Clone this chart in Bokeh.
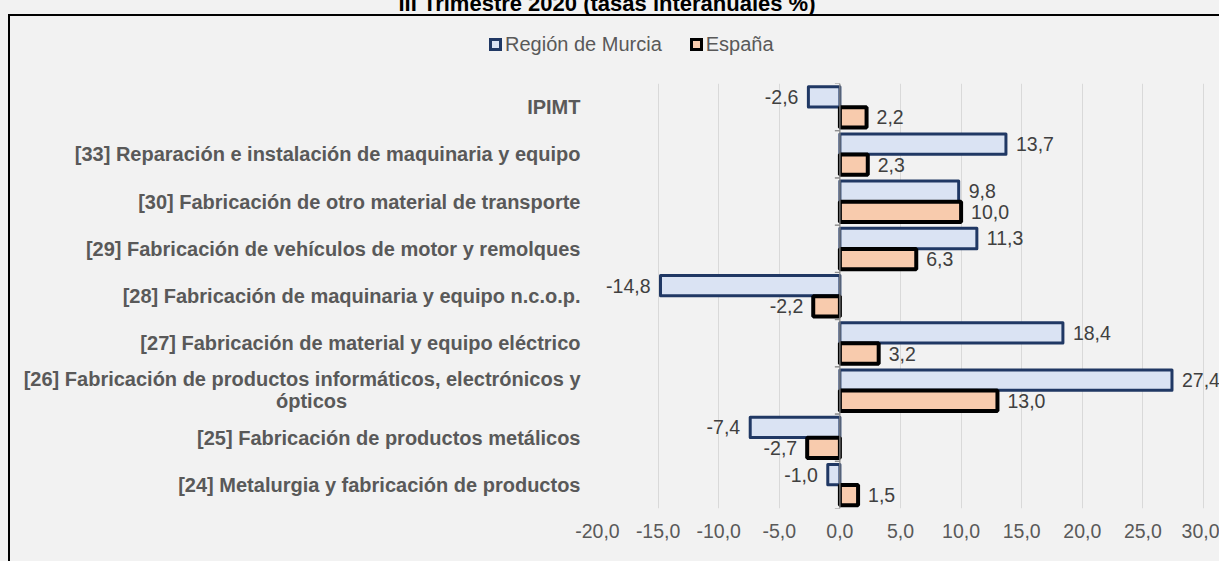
import math
from bokeh.plotting import figure
from bokeh.layouts import column
from bokeh.models import (ColumnDataSource, FactorRange, Range1d, FixedTicker, Span, Div)
from bokeh.transform import dodge
from bokeh.core.properties import value
from bokeh.embed import file_html
from bokeh.resources import INLINE

TITLE = "III Trimestre 2020 (tasas interanuales %)"
categories = [
    "IPIMT",
    "[33] Reparación e instalación de maquinaria y equipo",
    "[30] Fabricación de otro material de transporte",
    "[29] Fabricación de vehículos de motor y remolques",
    "[28] Fabricación de maquinaria y equipo n.c.o.p.",
    "[27] Fabricación de material y equipo eléctrico",
    "[26] Fabricación de productos informáticos, electrónicos y\nópticos",
    "[25] Fabricación de productos metálicos",
    "[24] Metalurgia y fabricación de productos",
]
murcia = [-2.6, 13.7, 9.8, 11.3, -14.8, 18.4, 27.4, -7.4, -1.0]
espana = [2.2, 2.3, 10.0, 6.3, -2.2, 3.2, 13.0, -2.7, 1.5]
series_names = ["Región de Murcia", "España"]
x_ticks = [-20, -15, -10, -5, 0, 5, 10, 15, 20, 25, 30]
x_tick_labels = ["-20,0", "-15,0", "-10,0", "-5,0", "0,0", "5,0", "10,0",
                 "15,0", "20,0", "25,0", "30,0"]

FONT = "Liberation Sans"
GRAY_TXT = "#595959"
M_FILL, M_LINE = "#dae3f3", "#203864"
E_FILL, E_LINE = "#f8cbad", "#000000"

W, H_PAGE = 1219, 561
HEADER_H = 83                      # title + legend strip
FRAME_L, FRAME_R_AXIS = 597, 1203  # pixel positions of -20 and 30
FRAME_B = 508 - HEADER_H           # bottom of plotting area inside the main figure
px_per_unit = (FRAME_R_AXIS - FRAME_L) / (x_ticks[-1] - x_ticks[0])
x_end = x_ticks[-1] + (W - FRAME_R_AXIS) / px_per_unit


def fmt(v):
    return f"{v:.1f}".replace(".", ",")


def axis_name(c):
    # axis labels are right-aligned; pad the second line of a wrapped label so it sits
    # centred under the first line (no-break spaces closed by a zero-width space)
    if "\n" not in c:
        return c
    first, second = c.split("\n")
    return first + "\n" + second + "\u00a0" * 42 + "\u200b"


factors = [axis_name(c) for c in categories]

src = ColumnDataSource(dict(
    cat=factors,
    murcia=murcia,
    espana=espana,
    m_lbl=[fmt(v) for v in murcia],
    e_lbl=[fmt(v) for v in espana],
    m_align=["left" if v >= 0 else "right" for v in murcia],
    e_align=["left" if v >= 0 else "right" for v in espana],
    m_off=[10 if v >= 0 else -10 for v in murcia],
    e_off=[10 if v >= 0 else -10 for v in espana],
))

# ---------------- header: title + legend ----------------
def swatch(fill, line, lw):
    return (f'<span style="display:inline-block;box-sizing:border-box;width:13px;height:13px;'
            f'background:{fill};border:{lw}px solid {line};margin-right:3px;"></span>')

header_html = (
    f'<div style="position:relative;width:{W}px;height:{HEADER_H}px;overflow:visible;">'
    f'<div style="position:absolute;left:0;top:-7px;width:1214px;text-align:center;'
    f'white-space:nowrap;font-family:\'{FONT}\';font-weight:bold;font-size:22px;'
    f'line-height:22px;color:#000;">{TITLE}</div>'
    f'<div style="position:absolute;left:489px;top:32px;height:24px;display:flex;'
    f'align-items:center;white-space:nowrap;font-family:\'{FONT}\';font-size:20px;'
    f'color:{GRAY_TXT};">'
    f'{swatch(M_FILL, M_LINE, 3)}<span style="margin-right:28px;">{series_names[0]}</span>'
    f'{swatch(E_FILL, E_LINE, 3)}<span>{series_names[1]}</span>'
    f'</div></div>'
)
hdr = Div(text=header_html, width=W, height=HEADER_H, styles={"margin": "0", "padding": "0"})

# ---------------- main chart ----------------
p = figure(width=W, height=H_PAGE - HEADER_H,
           x_range=Range1d(x_ticks[0], x_end),
           y_range=FactorRange(*reversed(factors)),
           output_backend="svg", toolbar_location=None,
           min_border_left=FRAME_L, min_border_right=0,
           min_border_top=0, min_border_bottom=H_PAGE - HEADER_H - FRAME_B,
           background_fill_color=None, border_fill_color=None,
           outline_line_color=None)

OFF = 0.218
H = 0.43

r_m = p.hbar(y=dodge("cat", OFF, range=p.y_range), left=0, right="murcia", height=H,
             fill_color=M_FILL, line_color=M_LINE, line_width=3,
             line_join="round", source=src)
r_e = p.hbar(y=dodge("cat", -OFF, range=p.y_range), left=0, right="espana", height=H,
             fill_color=E_FILL, line_color=E_LINE, line_width=4, source=src)

# category-axis tick marks on the zero line
for d in (-0.5, 0.5):
    p.ray(x=0, y=dodge("cat", d, range=p.y_range), length=5, length_units="screen",
          angle=math.pi, line_color="#8c8c8c", line_width=1, source=src)

p.add_layout(Span(location=0, dimension="height", line_color="#8c8c8c", line_width=1.2))

common = dict(text_baseline="middle", text_font=value(FONT), text_font_size="19.5px",
              text_color="#404040", source=src)
p.text(x="murcia", y=dodge("cat", OFF, range=p.y_range), text="m_lbl",
       text_align="m_align", x_offset="m_off", **common)
p.text(x="espana", y=dodge("cat", -OFF, range=p.y_range), text="e_lbl",
       text_align="e_align", x_offset="e_off", **common)

p.xgrid.grid_line_color = "#d9d9d9"
p.xgrid.ticker = FixedTicker(ticks=x_ticks)
p.ygrid.grid_line_color = None

p.xaxis.ticker = FixedTicker(ticks=x_ticks)
p.xaxis.major_label_overrides = dict(zip(x_ticks, x_tick_labels))
p.xaxis.axis_line_color = None
p.xaxis.major_tick_line_color = None
p.xaxis.minor_tick_line_color = None
p.xaxis.major_tick_out = 0
p.xaxis.major_label_standoff = 15
p.xaxis.major_label_text_font = FONT
p.xaxis.major_label_text_font_size = "19.5px"
p.xaxis.major_label_text_color = GRAY_TXT

p.yaxis.axis_line_color = None
p.yaxis.major_tick_line_color = None
p.yaxis.minor_tick_line_color = None
p.yaxis.major_tick_out = 0
p.yaxis.major_label_standoff = 17
p.yaxis.major_label_text_font = FONT
p.yaxis.major_label_text_font_style = "bold"
p.yaxis.major_label_text_font_size = "20px"
p.yaxis.major_label_text_line_height = 1.0
p.yaxis.major_label_text_color = GRAY_TXT

css_bg = ("linear-gradient(#000,#000) 8px 14px / 2px 100% no-repeat, "
          "linear-gradient(#000,#000) 8px 14px / 100% 2px no-repeat, #f2f2f2")
layout = column(hdr, p, spacing=0, styles={"background": css_bg})

open("out.html", "w").write(file_html(layout, INLINE))
